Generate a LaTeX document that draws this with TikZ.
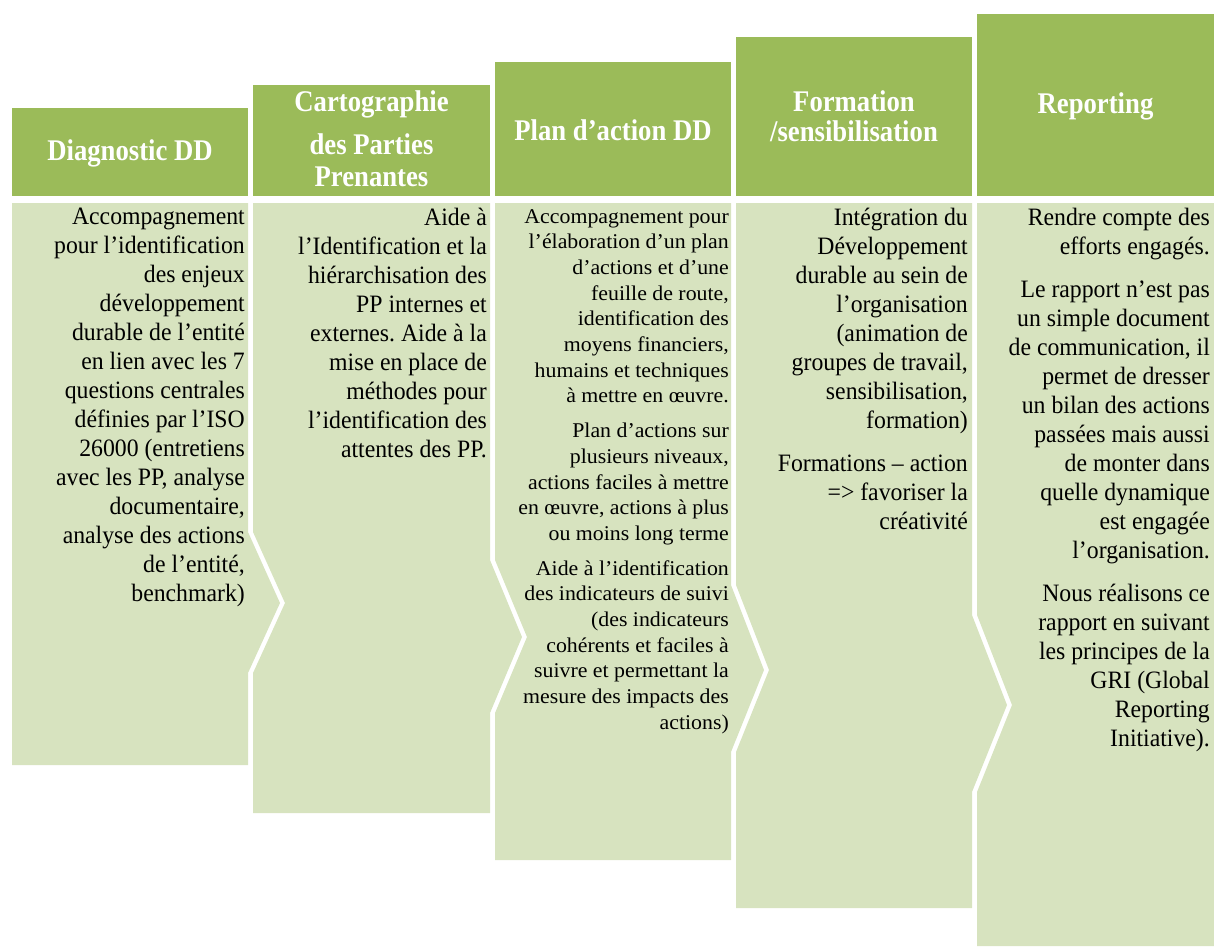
\documentclass[tikz,border=0pt]{standalone}
\usepackage{fontspec}
\setmainfont{Liberation Serif}
\newfontfamily\hdfont[FakeStretch=0.89]{Liberation Serif}
\newfontfamily\bdfont[FakeStretch=0.95]{Liberation Serif}
\newfontfamily\bdfontc[FakeStretch=1.04]{Liberation Serif}
\definecolor{hdgreen}{HTML}{9BBB59}
\definecolor{bdgreen}{HTML}{D7E3BF}
\frenchspacing
\begin{document}
\begin{tikzpicture}[x=1pt,y=-1pt,
  header/.style={fill=hdgreen},
  bodyshape/.style={fill=bdgreen},
  htext/.style={text=white,align=center,inner sep=0pt,font={\hdfont\bfseries\fontsize{30}{30}\selectfont}},
  btext/.style={text=black,align=right,inner sep=0pt,anchor=north east,font={\bdfont\fontsize{25}{29}\selectfont}},
  btextc/.style={text=black,align=right,inner sep=0pt,anchor=north east,font={\bdfontc\fontsize{21}{25.7}\selectfont}}]
\useasboundingbox (0,0) rectangle (1214,946);
% headers
\fill[header] (12,108) rectangle (248,196);
\fill[header] (253,85) rectangle (490,196);
\fill[header] (495,62) rectangle (731,196);
\fill[header] (736,37) rectangle (972,196);
\fill[header] (977,14) rectangle (1214,196);
\node[htext] (h1) at (130,153) {Diagnostic DD};
\node[htext] (h2) at (371.5,139) {Cartographie\\[13pt] des Parties\\[2pt] Prenantes};
\node[htext] (h3) at (613,130) {Plan d’action DD};
\node[htext] (h4) at (854,116) {Formation\\ /sensibilisation};
\node[htext] (h5) at (1095.5,106) {Reporting};
% bodies
\fill[bodyshape] (12,203) -- (248,203) -- (248,532) -- (280,603) -- (248,673) -- (248,765) -- (12,765) -- cycle;
\fill[bodyshape] (253,203) -- (490,203) -- (490,560) -- (522,637) -- (490,713) -- (490,813) -- (253,813) -- (253,673) -- (285,603) -- (253,532) -- cycle;
\fill[bodyshape] (495,203) -- (731,203) -- (731,585) -- (764,670) -- (731,752) -- (731,860) -- (495,860) -- (495,713) -- (527,637) -- (495,560) -- cycle;
\fill[bodyshape] (736,203) -- (972,203) -- (972,615) -- (1007,705) -- (972,792) -- (972,908) -- (736,908) -- (736,752) -- (769,670) -- (736,585) -- cycle;
\fill[bodyshape] (977,203) -- (1214,203) -- (1214,946) -- (977,946) -- (977,792) -- (1012,705) -- (977,615) -- cycle;
% body texts
\node[btext] (t1) at (245,208) {Accompagnement\\
pour l’identification\\
des enjeux\\
développement\\
durable de l’entité\\
en lien avec les 7\\
questions centrales\\
définies par l’ISO\\
26000 (entretiens\\
avec les PP, analyse\\
documentaire,\\
analyse des actions\\
de l’entité,\\
benchmark)};
\node[btext] (t2) at (487,208) {Aide à\\
l’Identification et la\\
hiérarchisation des\\
PP internes et\\
externes. Aide à la\\
mise en place de\\
méthodes pour\\
l’identification des\\
attentes des PP.};
\node[btextc] (t3) at (729,209) {Accompagnement pour\\
l’élaboration d’un plan\\
d’actions et d’une\\
feuille de route,\\
identification des\\
moyens financiers,\\
humains et techniques\\
à mettre en œuvre.\\[9pt]
Plan d’actions sur\\
plusieurs niveaux,\\
actions faciles à mettre\\
en œuvre, actions à plus\\
ou moins long terme\\[9pt]
Aide à l’identification\\
des indicateurs de suivi\\
(des indicateurs\\
cohérents et faciles à\\
suivre et permettant la\\
mesure des impacts des\\
actions)};
\node[btext] (t4) at (968,208) {Intégration du\\
Développement\\
durable au sein de\\
l’organisation\\
(animation de\\
groupes de travail,\\
sensibilisation,\\
formation)\\[14pt]
Formations – action\\
=> favoriser la\\
créativité};
\node[btext] (t5) at (1210,208) {Rendre compte des\\
efforts engagés.\\[14pt]
Le rapport n’est pas\\
un simple document\\
de communication, il\\
permet de dresser\\
un bilan des actions\\
passées mais aussi\\
de monter dans\\
quelle dynamique\\
est engagée\\
l’organisation.\\[14pt]
Nous réalisons ce\\
rapport en suivant\\
les principes de la\\
GRI (Global\\
Reporting\\
Initiative).};
\end{tikzpicture}
\end{document}
